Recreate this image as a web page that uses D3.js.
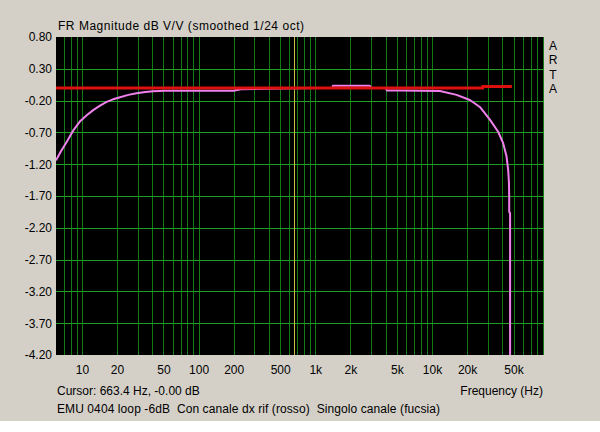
<!DOCTYPE html>
<html>
<head>
<meta charset="utf-8">
<script src="https://cdn.jsdelivr.net/npm/d3@7"></script>
<style>
  html, body { margin: 0; padding: 0; background: #ffffff; }
  svg { display: block; }
  text { font-family: "Liberation Sans", Arial, sans-serif; font-size: 12px; fill: #000; white-space: pre; }
</style>
</head>
<body>
<svg id="chart" width="600" height="432"></svg>
<script>
// ---- data ----
const titleText = "FR Magnitude dB V/V (smoothed 1/24 oct)";
const cursorText = "Cursor: 663.4 Hz, -0.00 dB";
const footerText = "EMU 0404 loop -6dB  Con canale dx rif (rosso)  Singolo canale (fucsia)";
const xAxisTitle = "Frequency (Hz)";
const sideLabel = ["A", "R", "T", "A"];

const xTickValues = [10, 20, 50, 100, 200, 500, 1000, 2000, 5000, 10000, 20000, 50000];
const xTickLabels = ["10", "20", "50", "100", "200", "500", "1k", "2k", "5k", "10k", "20k", "50k"];
const yTickValues = [0.8, 0.3, -0.2, -0.7, -1.2, -1.7, -2.2, -2.7, -3.2, -3.7, -4.2];
const cursorFreq = 663.4;

// red series (reference channel)
const redFreq = [6, 1000, 27200, 27300, 48400];
const redDb   = [0.0, 0.0, 0.0, 0.022, 0.022];

// fuchsia series (single channel)
const pinkFreq = [6.0, 6.6, 7.4, 8.5, 9.6, 11, 12.5, 14.3, 16.3, 18.5, 20.9, 25, 29.4, 35, 40.6, 51.4, 76, 200, 230, 500, 1000, 1400,
                  1416, 2930, 3000, 4000, 4116, 5310, 7870, 11690, 16250, 21130, 25720, 31340, 36900, 40740, 43570, 44980,
                  45700, 45900, 45900, 46700, 46700];
const pinkDb   = [-1.14, -1.00, -0.85, -0.66, -0.53, -0.43, -0.35, -0.28, -0.22, -0.18, -0.15, -0.11, -0.085, -0.065, -0.054, -0.045, -0.045, -0.045, -0.02, -0.01, 0.0, 0.0,
                  0.035, 0.035, 0.0, 0.0, -0.04, -0.04, -0.045, -0.05, -0.11, -0.19, -0.30, -0.50, -0.69, -0.87, -1.08, -1.29,
                  -1.50, -1.75, -1.95, -1.97, -4.6];

// ---- layout ----
const W = 600, H = 432;
const plot = { left: 56, right: 544, top: 37, bottom: 355 };

const svg = d3.select("#chart");

svg.append("rect").attr("x", 0).attr("y", 0).attr("width", W).attr("height", 421).attr("fill", "#d4d0c8");

const x = d3.scaleLog().domain([6, 91200]).range([plot.left, plot.right]);
const y = d3.scaleLinear().domain([-4.2, 0.8]).range([plot.bottom, plot.top]);

svg.append("rect")
  .attr("x", plot.left).attr("y", plot.top)
  .attr("width", plot.right - plot.left).attr("height", plot.bottom - plot.top)
  .attr("fill", "#000000");

svg.append("defs").append("clipPath").attr("id", "clip")
  .append("rect")
  .attr("x", plot.left).attr("y", plot.top)
  .attr("width", plot.right - plot.left).attr("height", plot.bottom - plot.top);

// vertical grid (1..9 per decade)
const vGrid = [];
for (let d = 1; d <= 10000; d *= 10) {
  for (let m = 1; m <= 9; m++) {
    const f = m * d;
    if (f > 6 && f < 91200) vGrid.push(f);
  }
}

const gridG = svg.append("g").attr("clip-path", "url(#clip)");
gridG.selectAll("line.v").data(vGrid).enter().append("line")
  .attr("class", "v")
  .attr("x1", d => Math.round(x(d)) + 0.5).attr("x2", d => Math.round(x(d)) + 0.5)
  .attr("y1", plot.top).attr("y2", plot.bottom)
  .attr("stroke", "#137a18").attr("stroke-width", 1);

gridG.selectAll("line.h").data(yTickValues.slice(1, -1)).enter().append("line")
  .attr("class", "h")
  .attr("x1", plot.left).attr("x2", plot.right)
  .attr("y1", d => Math.round(y(d)) + 0.5).attr("y2", d => Math.round(y(d)) + 0.5)
  .attr("stroke", "#1fa024").attr("stroke-width", 1);

// cursor line
gridG.append("line")
  .attr("x1", Math.round(x(cursorFreq)) + 0.5).attr("x2", Math.round(x(cursorFreq)) + 0.5)
  .attr("y1", plot.top).attr("y2", plot.bottom)
  .attr("stroke", "#c8c040").attr("stroke-width", 1);

// series
const line = d3.line().x(d => x(d[0])).y(d => y(d[1]));
const pinkData = pinkFreq.map((f, i) => [f, pinkDb[i]]);
const redData = redFreq.map((f, i) => [f, redDb[i]]);

const dataG = svg.append("g").attr("clip-path", "url(#clip)");
dataG.append("path").datum(pinkData)
  .attr("d", line).attr("fill", "none")
  .attr("stroke", "#f080ec").attr("stroke-width", 2).attr("stroke-linejoin", "round");
dataG.append("path").datum(redData)
  .attr("d", line).attr("fill", "none")
  .attr("stroke", "#dd1010").attr("stroke-width", 3);

// axes
const yAxis = d3.axisLeft(y).tickValues(yTickValues).tickSize(0).tickPadding(4)
  .tickFormat(d => d.toFixed(2));
const gy = svg.append("g").attr("transform", `translate(${plot.left},0)`).call(yAxis);
gy.select(".domain").remove();
gy.selectAll("text").style("font-family", '"Liberation Sans", Arial, sans-serif').style("font-size", "12px").attr("fill", "#000");

const xAxis = d3.axisBottom(x).tickValues(xTickValues).tickSize(0).tickPadding(10)
  .tickFormat((d, i) => xTickLabels[i]);
const gx = svg.append("g").attr("transform", `translate(0,${plot.bottom})`).call(xAxis);
gx.select(".domain").remove();
gx.selectAll("text").style("font-family", '"Liberation Sans", Arial, sans-serif').style("font-size", "12px").attr("fill", "#000");

// texts
svg.append("text").attr("x", 58).attr("y", 30)
  .attr("textLength", 246).attr("lengthAdjust", "spacing").text(titleText);
svg.append("text").attr("x", 57).attr("y", 395).text(cursorText);
svg.append("text").attr("x", 57).attr("y", 413)
  .attr("textLength", 383).attr("lengthAdjust", "spacing").text(footerText);
svg.append("text").attr("x", 543).attr("y", 395).attr("text-anchor", "end").text(xAxisTitle);
svg.selectAll("text.side").data(sideLabel).enter().append("text")
  .attr("class", "side")
  .attr("x", 553).attr("y", (d, i) => 50 + i * 14.3)
  .attr("text-anchor", "middle")
  .text(d => d);
</script>
</body>
</html>
